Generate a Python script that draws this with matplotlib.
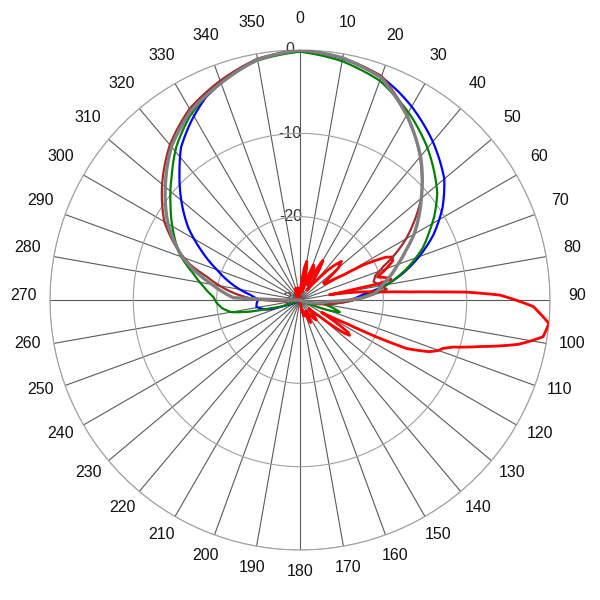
import numpy as np
import matplotlib.pyplot as plt

plt.rcParams['font.family'] = ['Liberation Sans', 'DejaVu Sans']

# angles in degrees (clockwise from north), gain in dB
blue_ang = [0, 10, 20, 25, 30, 40, 50, 57, 64, 70, 76, 80, 85, 90, 95, 100, 110,
            240, 245, 250, 254, 261, 266, 271, 276, 282, 290, 297, 303, 310, 317,
            322, 329, 335, 340, 350, 360]
blue_db = [0, -0.6, -1.5, -2.3, -3.2, -5.2, -7.4, -9.6, -12.2, -14.8, -17.5, -19.5,
           -22.4, -24, -25.8, -27.5, -30,
           -30, -29, -27.9, -25.8, -24.7, -24.8, -25, -24, -22, -19.4, -16.6, -14.0,
           -11.4, -8.8, -6.8, -4.8, -3.2, -2.3, -0.7, 0]

green_ang = [0, 10, 20, 31, 40, 47, 52, 58, 62, 67, 73, 78, 82, 86, 91, 96, 100,
             104, 107, 110, 113, 118,
             245, 250, 254.5, 257, 260, 264, 268, 272, 278, 284, 291, 298, 306, 314,
             321, 329, 340, 350, 360]
green_db = [-0.2, -0.9, -2.0, -4.2, -6.2, -7.9, -9.1, -11.0, -12.4, -14.0, -16.4,
            -18.5, -20.2, -22, -24, -26, -27, -25.8, -25.0, -26.5, -28.5, -30,
            -30, -28, -26.3, -23.8, -21.6, -20.6, -20.0, -19.6, -18.3, -16.8, -14.5,
            -12.8, -10.8, -8.6, -6.4, -4.3, -2.1, -0.8, -0.2]

brown_ang = [0, 10, 20, 30, 40, 50, 56, 60, 64, 68, 72, 76, 79, 83, 86, 90, 95, 100,
             110, 262, 268, 272, 275, 278, 284, 288, 292, 300, 310, 320, 330, 340,
             350, 360]
brown_db = [0, -0.5, -1.4, -4.3, -7.6, -11.0, -13.6, -15.3, -17.2, -19.2, -20.5,
            -20.9, -20.4, -19.5, -21.5, -23.5, -25.5, -27, -30, -30, -27, -24,
            -22.5, -21.1, -18.5, -16.1, -14.3, -11.2, -8.4, -5.7, -3.5, -2.0, -0.6, 0]

gray_ang = [0, 10, 20, 30, 40, 50, 60, 65, 70, 79, 85, 88, 93, 100, 110, 120,
            260, 268, 271, 272, 275, 280, 290, 300, 310, 320, 330, 340, 350, 360]
gray_db = [0, -0.5, -1.6, -4.4, -7.5, -11.0, -14.2, -16.0, -17.5, -19.8, -21,
           -22.5, -26.5, -28, -29.5, -30,
           -30, -30, -27, -22, -21, -19.3, -15.0, -11.7, -8.9, -6.0, -3.8, -2.3,
           -0.7, 0]

red_ang = [0, 3, 5, 8, 10, 12, 15, 18, 21, 23, 25.5, 27.5, 30, 32, 36, 40, 44, 47,
           50, 54, 57, 60, 61, 63.5, 65, 67, 69.5, 72, 73.5, 75.5, 77, 78.2, 79, 80,
           81.5, 82.4, 84.5, 85.8, 86.7, 87.3, 88.6, 91.6, 95.4, 98.6, 100.5, 101.5,
           104.5, 107.1, 108.7, 110, 111.8, 114.5, 115.8, 116.9, 118.6, 120, 122,
           124, 125.5, 127, 130, 134, 138, 141, 145, 150, 155, 160, 166, 172, 180,
           200, 250, 300, 330, 340, 345, 350, 355, 360]
red_db = [-29, -28.5, -28, -26, -25.3, -26.3, -29, -27.5, -25.5, -25.8, -28, -26.5,
          -24.5, -25.5, -28.5, -27, -24.5, -23.2, -24, -26.5, -26.5, -24, -21.3,
          -18.5, -17.8, -17.9, -18.8, -19.8, -20.3, -19.3, -18.8, -20.2, -24, -26.4,
          -24, -22.7, -20, -16.8, -13.2, -10, -6, -2, 0, -0.5, -2.3, -3.3,
          -7.7, -10.8, -11.9, -12.3, -13.3, -16, -19.9, -23.8, -26, -27, -25,
          -23, -22.7, -23.5, -27, -28.5, -27.5, -26.9, -27.6, -28.5, -27, -28.5,
          -28, -29, -30, -30, -30, -30, -29, -28.5, -29.5, -28.5, -29.5, -29]

fig = plt.figure(figsize=(6, 6), dpi=100)
ax = fig.add_axes([50 / 600, 50 / 600, 500 / 600, 500 / 600], projection='polar')
ax.set_theta_zero_location('N')
ax.set_theta_direction(-1)
ax.set_ylim(-30, 0)

ax.set_xticks(np.deg2rad(np.arange(0, 360, 10)))
ax.set_xticklabels([])
ax.set_yticks([-30, -20, -10, 0])
ax.set_yticklabels([])
ax.xaxis.grid(True, color='#5a5a5a', lw=0.8)
ax.yaxis.grid(True, color='#a0a0a0', lw=0.8)
ax.spines['polar'].set_color('#a0a0a0')
ax.spines['polar'].set_linewidth(0.8)

# angle labels
for a in range(0, 360, 10):
    ax.annotate(str(a), xy=(np.deg2rad(a), 3.2), xytext=(0, 3.5),
                textcoords='offset points', ha='center', va='center',
                fontsize=11.5, color='#111111', annotation_clip=False)

# radial labels
for v in [0, -10, -20, -30]:
    ax.annotate(str(v), xy=(0, v), xytext=(-7, 0), textcoords='offset points',
                ha='center', va='center', fontsize=11.5, color='#333333', zorder=1)

series = [
    (blue_ang, blue_db, '#0000ff', 1.6, 3),
    (green_ang, green_db, '#008000', 1.6, 3),
    (red_ang, red_db, '#ff0000', 2.0, 4),
    (brown_ang, brown_db, '#a52a2a', 1.6, 5),
    (gray_ang, gray_db, '#808080', 2.4, 5),
]
for ang, db, col, lw, z in series:
    line, = ax.plot(np.deg2rad(ang), db, color=col, lw=lw, zorder=z)
    # draw segments as polar curves instead of straight chords
    line.get_path()._interpolation_steps = 30

fig.savefig('out.png', dpi=100)
